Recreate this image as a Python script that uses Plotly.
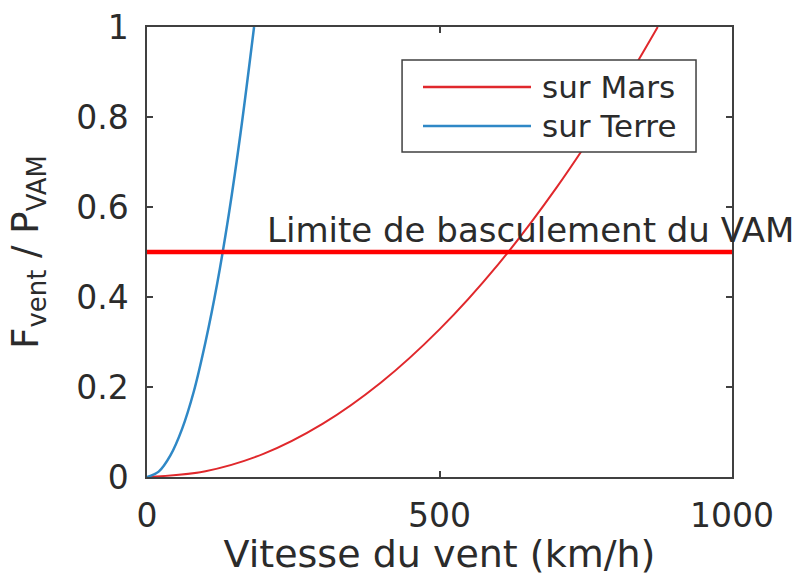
import plotly.graph_objects as go

# Data
vitesse_terre = [0, 20, 40, 60, 80, 100, 120, 140, 160, 183]
force_terre = [0.0, 0.012, 0.048, 0.107, 0.19, 0.30, 0.43, 0.585, 0.765, 1.0]

vitesse_mars = [0, 100, 200, 300, 400, 500, 600, 700, 800, 873]
force_mars = [0.0, 0.013, 0.052, 0.118, 0.21, 0.328, 0.472, 0.643, 0.84, 1.0]

limite_x = [0, 1000]
limite_y = [0.5, 0.5]

x_ticks = [0, 500, 1000]
y_ticks = [0, 0.2, 0.4, 0.6, 0.8, 1]
y_ticklabels = ["0", "0.2", "0.4", "0.6", "0.8", "1"]

legend_labels = ["sur Mars", "sur Terre"]
limit_label = "Limite de basculement du VAM"

RED = "#e0282c"
BLUE = "#2f88c6"
TXT = "#2b2b2b"
FONT = "DejaVu Sans"

fig = go.Figure()
fig.add_trace(go.Scatter(x=vitesse_mars, y=force_mars, mode="lines",
                         line=dict(color=RED, width=2, shape="spline"), showlegend=False))
fig.add_trace(go.Scatter(x=vitesse_terre, y=force_terre, mode="lines",
                         line=dict(color=BLUE, width=2.5, shape="spline"), showlegend=False))
fig.add_trace(go.Scatter(x=limite_x, y=limite_y, mode="lines",
                         line=dict(color="#ff0000", width=4.5), showlegend=False))

axis_common = dict(showline=True, mirror="ticks", linecolor="#404040", linewidth=1.5,
                   ticks="inside", ticklen=6, tickcolor="#404040", tickwidth=1.5,
                   showgrid=False, zeroline=False, automargin=False,
                   tickfont=dict(family=FONT, size=33, color=TXT))

fig.update_xaxes(range=[0, 1000], tickvals=x_ticks, ticklabelstandoff=9,
                 title=dict(text="Vitesse du vent (km/h)", font=dict(family=FONT, size=38, color=TXT),
                            standoff=11),
                 **axis_common)
fig.update_yaxes(range=[0, 1], tickvals=y_ticks, ticktext=y_ticklabels, ticklabelstandoff=10,
                 title=dict(text="F<sub>vent</sub> / P<sub>VAM</sub>",
                            font=dict(family=FONT, size=37, color=TXT), standoff=26),
                 **axis_common)

# Custom legend (box, line samples, labels)
shapes = [dict(type="rect", xref="paper", yref="paper", x0=0.436, x1=0.9385, y0=0.7222, y1=0.9267,
               line=dict(color="#404040", width=1.5), fillcolor="white", layer="above")]
legend_colors = [RED, BLUE]
legend_y = [0.8667, 0.78]
for c, yy in zip(legend_colors, legend_y):
    shapes.append(dict(type="line", xref="paper", yref="paper", x0=0.4718, x1=0.6564, y0=yy, y1=yy,
                       line=dict(color=c, width=2.5), layer="above"))
annotations = []
for lab, yy in zip(legend_labels, legend_y):
    annotations.append(dict(xref="paper", yref="paper", x=0.672, y=yy, text=lab, showarrow=False,
                            xanchor="left", yanchor="middle",
                            font=dict(family=FONT, size=31, color=TXT)))
annotations.append(dict(xref="paper", yref="y", x=0.2017, y=0.5, text=limit_label, showarrow=False,
                        xanchor="left", yanchor="bottom", yshift=0,
                        font=dict(family=FONT, size=34, color=TXT)))

fig.update_layout(width=812, height=576, margin=dict(l=147, r=80, t=27, b=99),
                  paper_bgcolor="white", plot_bgcolor="white",
                  shapes=shapes, annotations=annotations, showlegend=False)

fig.write_html("out.html")
